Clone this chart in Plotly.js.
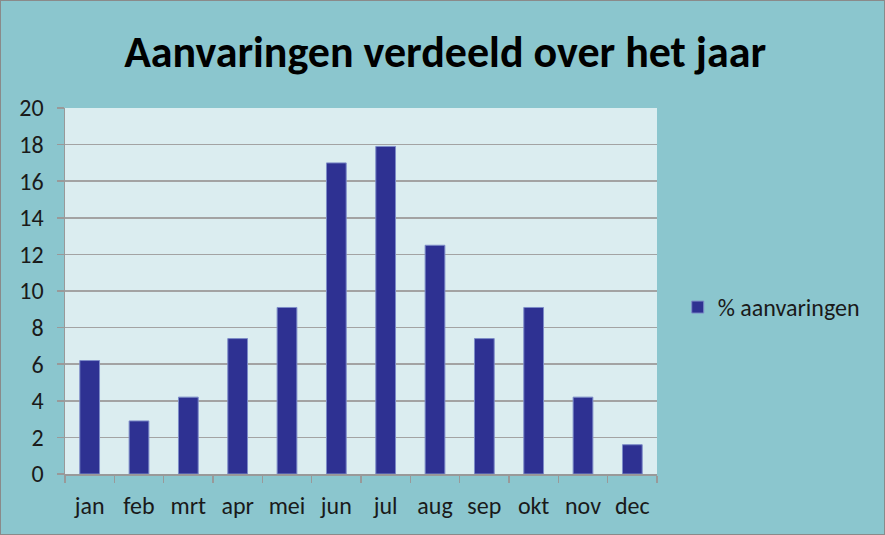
<!DOCTYPE html>
<html>
<head>
<meta charset="utf-8">
<script src="https://cdn.plot.ly/plotly-3.0.1.min.js"></script>
<style>
html,body{margin:0;padding:0;background:#8bc6ce;}
#chart{width:883px;height:533px;border:1px solid #8a8a8a;}
</style>
</head>
<body>
<div id="chart"></div>
<script>
const months = ["jan","feb","mrt","apr","mei","jun","jul","aug","sep","okt","nov","dec"];
const percentages = [6.2, 2.9, 4.2, 7.4, 9.1, 17.0, 17.9, 12.5, 7.4, 9.1, 4.2, 1.6];
const seriesName = "% aanvaringen";
const yTicks = [0,2,4,6,8,10,12,14,16,18,20];

const fontFam = "Carlito, Calibri, 'Open Sans', 'Noto Sans', sans-serif";

const trace = {
  type: "bar",
  x: months,
  y: percentages,
  name: seriesName,
  showlegend: true,
  marker: {color: "#2e3192", line: {color: "#7d8cc8", width: 1}}
};

const layout = {
  width: 883, height: 533,
  paper_bgcolor: "#8bc6ce",
  plot_bgcolor: "#dbedf0",
  margin: {l: 64, r: 227, t: 107, b: 60},
  bargap: 0.6,
  title: {
    text: "<b>Aanvaringen verdeeld over het jaar</b>",
    font: {family: fontFam, size: 44, color: "#000000"},
    x: 0.503, xanchor: "center", y: 0.905, yanchor: "middle"
  },
  font: {family: fontFam, color: "#1a1a1a"},
  xaxis: {
    type: "category",
    tickson: "boundaries",
    ticks: "outside", ticklen: 7, tickcolor: "#999999", tickwidth: 1.5,
    showline: true, linecolor: "#999999", linewidth: 1.5,
    showgrid: false,
    tickfont: {size: 24, color: "#1a1a1a"},
    ticklabelstandoff: 10
  },
  yaxis: {
    range: [0, 20],
    tickvals: yTicks,
    ticks: "outside", ticklen: 7, tickcolor: "#999999", tickwidth: 1.5,
    showline: true, linecolor: "#999999", linewidth: 1.5,
    showgrid: true, gridcolor: "#a3a3a3", gridwidth: 1.5,
    zeroline: false,
    tickfont: {size: 24, color: "#1a1a1a"},
    ticklabelstandoff: 8
  },
  legend: {
    x: 1.035, xanchor: "left", y: 0.455, yanchor: "middle",
    bgcolor: "rgba(0,0,0,0)",
    font: {size: 24, color: "#1a1a1a"},
    itemwidth: 30
  }
};

Plotly.newPlot("chart", [trace], layout, {displayModeBar: false, staticPlot: true});
</script>
</body>
</html>
